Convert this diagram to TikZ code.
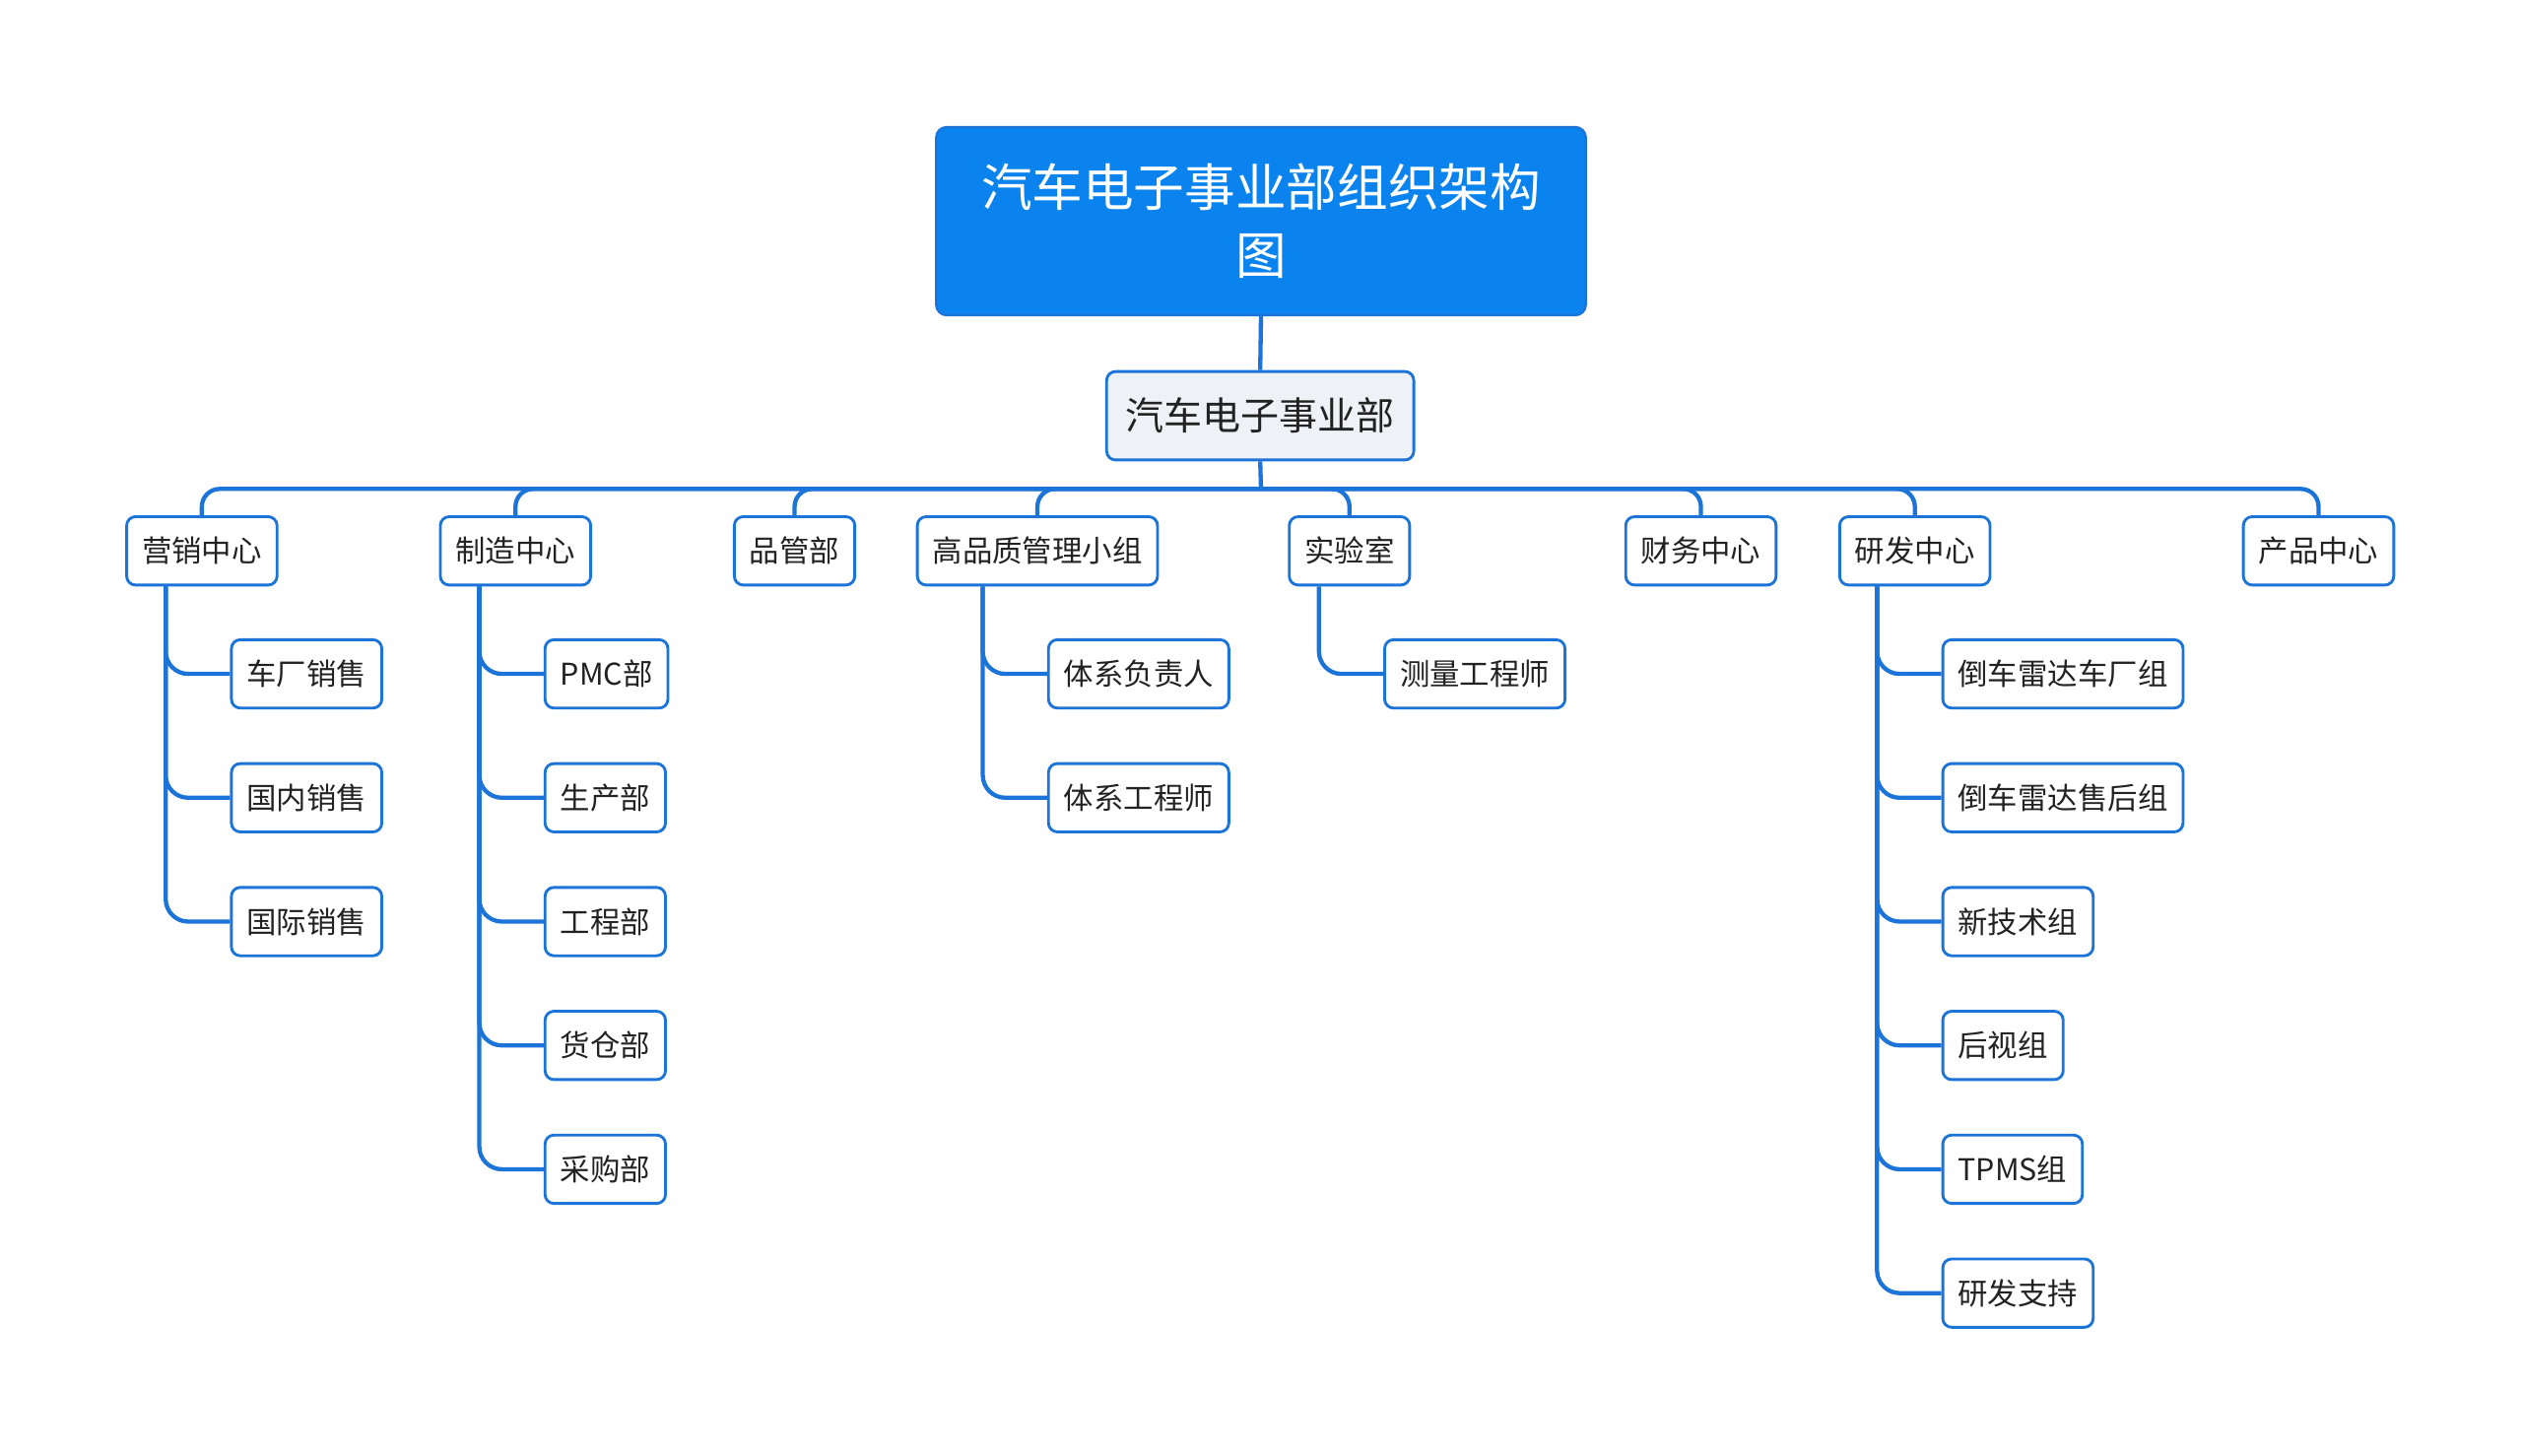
\documentclass[tikz,border=0pt]{standalone}
\usepackage{fontspec}
\setmainfont{Noto Sans CJK SC}
\usetikzlibrary{positioning}
\definecolor{lineblue}{HTML}{1C74D8}
\definecolor{rootblue}{HTML}{0A83EE}
\definecolor{hubgray}{HTML}{EEF1F5}
\definecolor{inkgray}{HTML}{222222}

\begin{document}
\begin{tikzpicture}[x=0.02cm,y=-0.02cm,
  root/.style={rectangle,rounded corners=0.13cm,fill=rootblue,draw=lineblue,line width=0.8pt,
    text=white,align=center,minimum width=8.08cm,minimum height=2.34cm,
    font=\fontsize{18}{24}\selectfont},
  hub/.style={rectangle,rounded corners=0.11cm,fill=hubgray,draw=lineblue,line width=1pt,
    text=inkgray,minimum width=3.82cm,minimum height=1.1cm,font=\fontsize{13.6}{16}\selectfont},
  box/.style={rectangle,rounded corners=0.11cm,fill=white,draw=lineblue,line width=1pt,
    text=inkgray,inner xsep=0.19cm,minimum height=0.85cm,font=\fontsize{10.6}{13}\selectfont},
  link/.style={draw=lineblue,line width=1.5pt,rounded corners=0.28cm}]
  \useasboundingbox (0,0) rectangle (1568,905);

  % top
  \draw (784,137.5) node[root] (R) {汽车电子事业部组织架构\\图};
  \draw (783.5,258.5) node[hub] (H) {汽车电子事业部};
  \draw[link] (R.south) -- (H.north);
  \coordinate (bus) at (784,304);
  \draw[link] (H.south) -- (bus);

  % departments
  \draw (125.5,342.5) node[box] (yx) {营销中心};
  \draw (320.5,342.5) node[box] (zz) {制造中心};
  \draw (494,342.5) node[box] (pg) {品管部};
  \draw (645,342.5) node[box] (gp) {高品质管理小组};
  \draw (839,342.5) node[box] (sy) {实验室};
  \draw (1057.5,342.5) node[box] (cw) {财务中心};
  \draw (1190.5,342.5) node[box] (yf) {研发中心};
  \draw (1441.5,342.5) node[box] (cp) {产品中心};
  \foreach \d in {yx,zz,pg,gp,sy,cw,yf,cp}
    \draw[link,rounded corners=0.22cm] (bus) -| (\d.north);

  % 营销中心
  \draw (143,419) node[box,anchor=west] (yx1) {车厂销售};
  \draw (143,496) node[box,anchor=west] (yx2) {国内销售};
  \draw (143,573) node[box,anchor=west] (yx3) {国际销售};
  \foreach \c in {yx1,yx2,yx3}
    \draw[link] ([xshift=-0.8cm]\c.west |- yx.south) |- (\c.west);

  % 制造中心
  \draw (338,419) node[box,anchor=west] (zz1) {PMC部};
  \draw (338,496) node[box,anchor=west] (zz2) {生产部};
  \draw (338,573) node[box,anchor=west] (zz3) {工程部};
  \draw (338,650) node[box,anchor=west] (zz4) {货仓部};
  \draw (338,727) node[box,anchor=west] (zz5) {采购部};
  \foreach \c in {zz1,zz2,zz3,zz4,zz5}
    \draw[link] ([xshift=-0.8cm]\c.west |- zz.south) |- (\c.west);

  % 高品质管理小组
  \draw (651,419) node[box,anchor=west] (gp1) {体系负责人};
  \draw (651,496) node[box,anchor=west] (gp2) {体系工程师};
  \foreach \c in {gp1,gp2}
    \draw[link] ([xshift=-0.8cm]\c.west |- gp.south) |- (\c.west);

  % 实验室
  \draw (860,419) node[box,anchor=west] (sy1) {测量工程师};
  \draw[link] ([xshift=-0.8cm]sy1.west |- sy.south) |- (sy1.west);

  % 研发中心
  \draw (1207,419) node[box,anchor=west] (yf1) {倒车雷达车厂组};
  \draw (1207,496) node[box,anchor=west] (yf2) {倒车雷达售后组};
  \draw (1207,573) node[box,anchor=west] (yf3) {新技术组};
  \draw (1207,650) node[box,anchor=west] (yf4) {后视组};
  \draw (1207,727) node[box,anchor=west] (yf5) {TPMS组};
  \draw (1207,804) node[box,anchor=west] (yf6) {研发支持};
  \foreach \c in {yf1,yf2,yf3,yf4,yf5,yf6}
    \draw[link] ([xshift=-0.8cm]\c.west |- yf.south) |- (\c.west);
\end{tikzpicture}
\end{document}
